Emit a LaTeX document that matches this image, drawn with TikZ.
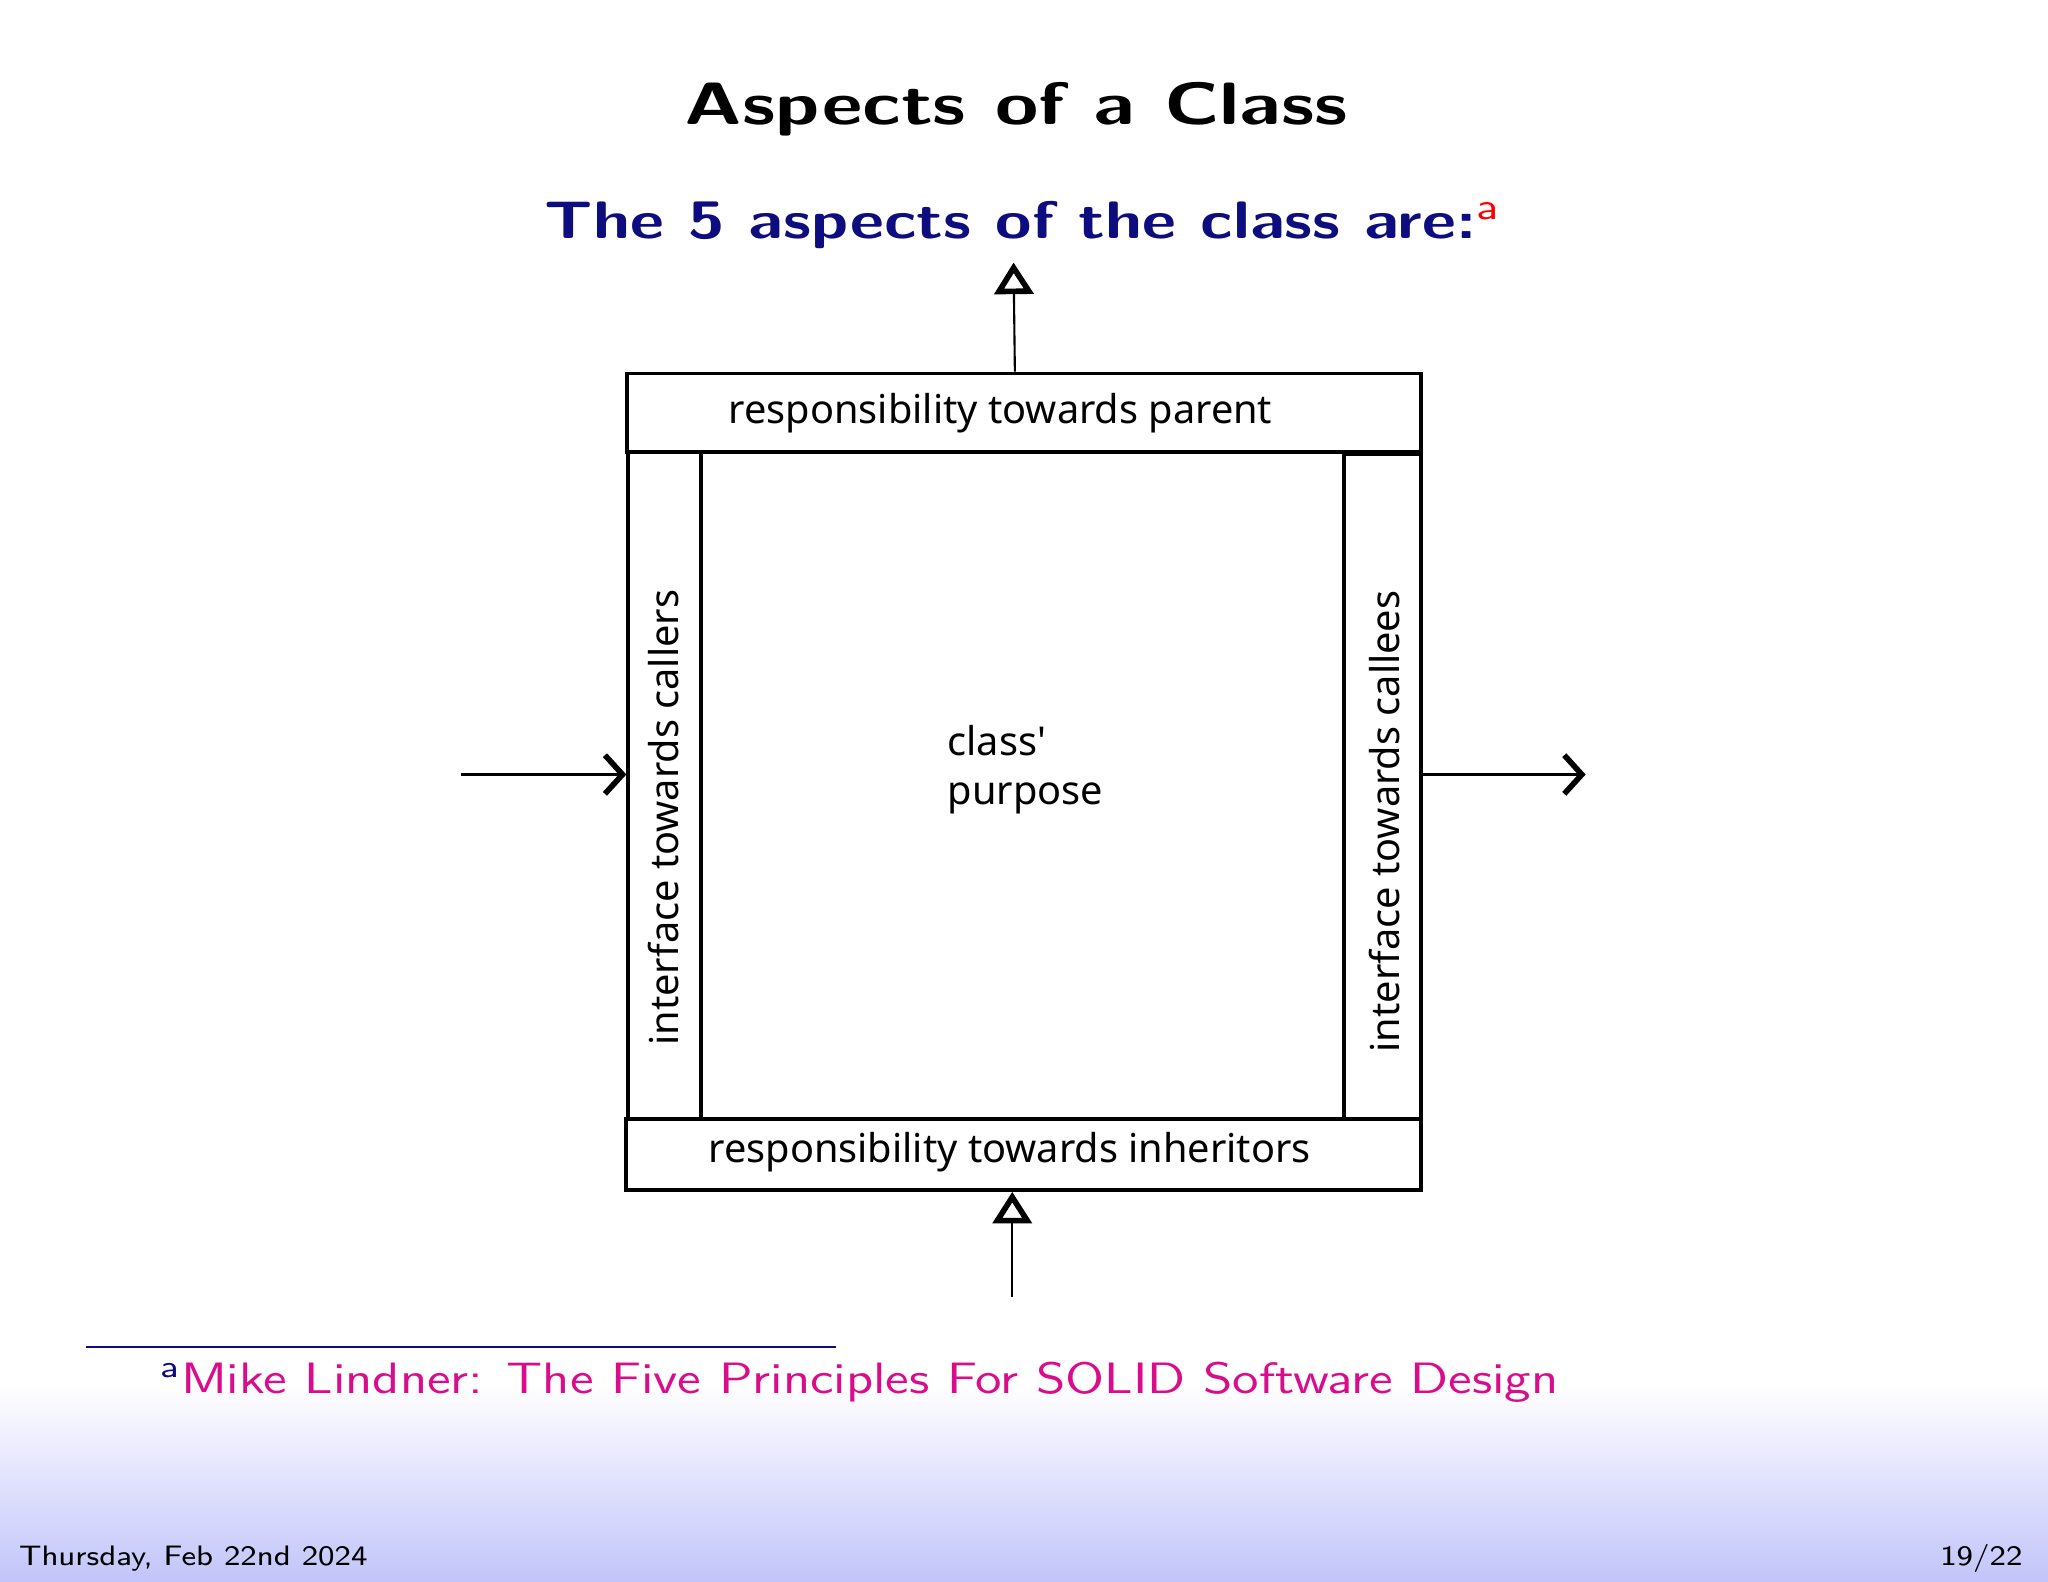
\documentclass[tikz,border=0pt]{standalone}
\usepackage{fontspec}
\newfontfamily\nsans{Noto Sans}
\usetikzlibrary{arrows.meta}
\definecolor{navy}{rgb}{0.05,0.05,0.5}
\definecolor{mag}{rgb}{0.85,0.05,0.55}
\definecolor{lav}{rgb}{0.76,0.77,0.98}
\begin{document}
\begin{tikzpicture}[x=0.1306mm,y=-0.1306mm,
  box/.style={draw,line width=1.1pt},
  lbl/.style={font=\nsans\fontsize{11.3}{14}\selectfont},
  tri/.style={line width=0.6pt,-{Triangle[open,length=9pt,width=11pt,line width=1.6pt]}},
  barb/.style={line width=0.6pt,-{Straight Barb[length=5pt,width=11pt,line width=1.6pt]}}]
\useasboundingbox (0,0) rectangle (1568,1211);
\shade[top color=white,bottom color=lav] (0,1060) rectangle (1568,1211);
\node[xscale=1.32] (title) at (778,84) {\sffamily\bfseries\fontsize{17}{20}\selectfont Aspects\ of\ a\ Class};
\node[text=navy,xscale=1.255] (sub) at (783,172) {\sffamily\bfseries\fontsize{15}{18}\selectfont The 5 aspects of the class are:\textsuperscript{\color{red}\mdseries a}};
\node[box,minimum width=608*0.1306mm,minimum height=60*0.1306mm,inner sep=0] (top) at (784,316) {};
\node[lbl] at (766,316) {responsibility towards parent};
\node[box,minimum width=609*0.1306mm,minimum height=54*0.1306mm,inner sep=0] (bot) at (783.5,884) {};
\node[lbl] at (773,882) {responsibility towards inheritors};
\node[box,minimum width=56*0.1306mm,minimum height=511*0.1306mm,inner sep=0] (left) at (509,601.5) {};
\node[lbl,rotate=90] at (508,626) {interface towards callers};
\node[box,minimum width=59*0.1306mm,minimum height=509*0.1306mm,inner sep=0] (right) at (1058.5,602.5) {};
\node[lbl,rotate=90] at (1060,629) {interface towards callees};
\node[lbl,align=left,anchor=west] (purp) at (716,589) {class'\\purpose};
\coordinate (tt) at (776,201);
\coordinate (bs) at (775,993);
\coordinate (ls) at (353,593);
\coordinate (re) at (1214,593);
\draw[tri] (top.north-|777,0) -- (tt);
\draw[tri] (bs) -- (bot.south-|775,0);
\draw[barb] (ls) -- (left.west|-0,593);
\draw[barb] (right.east|-0,593) -- (re);
\draw[navy,line width=0.6pt] (66,1031) -- (640,1031);
\node[anchor=west,inner sep=0,xscale=1.23] (fn) at (122,1058) {\sffamily\fontsize{12.5}{15}\selectfont\textsuperscript{\color{navy}a}\color{mag}Mike Lindner: The Five Principles For SOLID Software Design};
\node[anchor=west,inner sep=0,xscale=1.1] (date) at (14,1193) {\sffamily\fontsize{8}{10}\selectfont Thursday, Feb 22nd 2024};
\node[anchor=east,inner sep=0,xscale=1.1] (pg) at (1549,1193) {\sffamily\fontsize{8}{10}\selectfont 19/22};
\end{tikzpicture}
\end{document}
